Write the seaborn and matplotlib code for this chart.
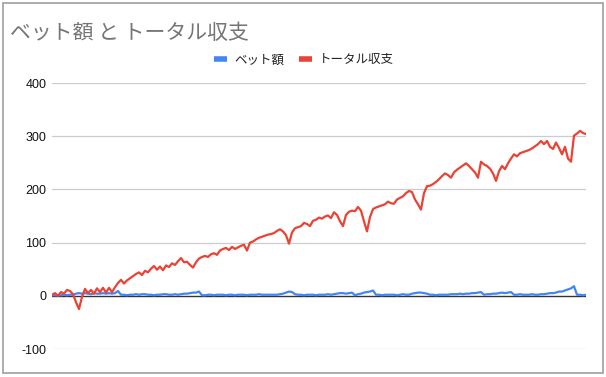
import matplotlib
matplotlib.use("Agg")
import matplotlib.pyplot as plt
from matplotlib.lines import Line2D
from matplotlib.patches import Rectangle
import seaborn as sns
import pandas as pd

# ---- data ----
title = "ベット額 と トータル収支"
series_names = ["ベット額", "トータル収支"]
colors = ["#4285F4", "#EA4335"]
y_ticks = [-100, 0, 100, 200, 300, 400]

total_balance = [
    2, 5, 0, 7, 4, 11, 9, 3, -12, -25,
    -2, 13, 5, 11, 4, 14, 7, 15, 6, 15,
    7, 16, 24, 30, 23, 29, 33, 37, 41, 44,
    39, 47, 44, 51, 56, 49, 55, 48, 57, 54,
    61, 58, 65, 71, 63, 64, 58, 53, 63, 70,
    73, 75, 73, 78, 80, 77, 85, 88, 90, 86,
    92, 88, 91, 94, 96, 85, 100, 102, 106, 109,
    111, 113, 115, 116, 118, 122, 125, 121, 114, 98,
    119, 127, 129, 131, 137, 135, 131, 141, 143, 147,
    145, 149, 151, 146, 157, 152, 140, 131, 152, 158,
    160, 159, 167, 160, 140, 121, 148, 163, 166, 168,
    170, 172, 177, 174, 173, 181, 184, 187, 193, 197,
    195, 181, 172, 162, 193, 206, 207, 210, 214, 219,
    225, 230, 227, 222, 232, 237, 241, 245, 249, 244,
    238, 232, 222, 252, 247, 244, 239, 230, 216, 234,
    244, 238, 249, 258, 266, 262, 268, 270, 272, 274,
    277, 281, 285, 291, 285, 291, 280, 276, 288, 278,
    266, 280, 258, 252, 301, 305, 310, 306, 304,
]

bet_amount = [
    1, 1, 1, 1, 2, 1, 2, 2, 4, 5,
    4, 5, 4, 3, 5, 4, 4, 5, 4, 5,
    4, 5, 9, 2, 2, 1, 2, 2, 3, 2,
    3, 3, 2, 2, 1, 2, 2, 3, 3, 2,
    2, 3, 2, 3, 4, 4, 5, 6, 6, 8,
    1, 1, 2, 2, 1, 2, 2, 2, 1, 2,
    2, 1, 2, 2, 2, 1, 2, 2, 2, 3,
    2, 2, 2, 2, 2, 2, 3, 4, 6, 8,
    7, 3, 2, 2, 1, 2, 2, 2, 1, 2,
    2, 2, 3, 2, 3, 4, 5, 5, 4, 5,
    6, 1, 3, 4, 6, 7, 8, 10, 2, 2,
    1, 2, 2, 2, 2, 1, 2, 3, 2, 2,
    4, 5, 6, 6, 5, 4, 2, 2, 1, 2,
    2, 2, 2, 3, 3, 3, 4, 3, 4, 4,
    5, 5, 6, 7, 2, 3, 3, 4, 4, 5,
    6, 5, 6, 7, 2, 2, 3, 2, 2, 2,
    3, 2, 2, 3, 3, 4, 5, 5, 6, 8,
    8, 10, 12, 14, 18, 2, 2, 1, 2,
]

rounds = list(range(len(total_balance)))

df = pd.concat([
    pd.DataFrame({"round": rounds, "value": bet_amount, "series": series_names[0]}),
    pd.DataFrame({"round": rounds, "value": total_balance, "series": series_names[1]}),
], ignore_index=True)

# ---- styling ----
sns.set_theme(style="white")
plt.rcParams["font.family"] = ["Noto Sans CJK JP", "DejaVu Sans"]

W, H = 606, 377
fig = plt.figure(figsize=(W / 100, H / 100), dpi=100)
fig.patch.set_facecolor("white")

left, right, top, bottom = 52, 586, 83, 349
ax = fig.add_axes([left / W, 1 - bottom / H, (right - left) / W, (bottom - top) / H])

sns.lineplot(data=df, x="round", y="value", hue="series",
             palette=dict(zip(series_names, colors)), hue_order=series_names,
             linewidth=1.6, ax=ax, legend=False, zorder=3)

ax.set_ylim(-100, 400)
ax.set_xlim(0, len(rounds) - 1)
ax.set_yticks(y_ticks)
ax.set_yticklabels([str(t) for t in y_ticks], family=["Liberation Sans", "DejaVu Sans"],
                   fontsize=9, color="#111111")
ax.set_xticks([])
ax.tick_params(axis="y", length=0, pad=4)
for t in y_ticks:
    if t != 0:
        ax.axhline(t, color="#cccccc", linewidth=0.9, zorder=1)
ax.axhline(0, color="#333333", linewidth=1.0, zorder=2)
for s in ax.spines.values():
    s.set_visible(False)
ax.set_xlabel("")
ax.set_ylabel("")

fig.text(10 / W, 1 - 33 / H, title, fontsize=15, color="#757575", va="center", ha="left")

handles = [Line2D([0], [0], color=c, linewidth=4, solid_capstyle="butt") for c in colors]
fig.legend(handles, series_names, loc="center", bbox_to_anchor=(304 / W, 1 - 60 / H),
           ncol=2, frameon=False, fontsize=9, handlelength=1.0, handletextpad=0.6,
           columnspacing=1.2, labelcolor="#222222")

# chart border
fig.patches.append(Rectangle((3 / W, 4 / H), 600 / W, 370 / H, transform=fig.transFigure,
                             fill=False, edgecolor="#9e9e9e", linewidth=1.2))

fig.savefig("out.png", dpi=100)
